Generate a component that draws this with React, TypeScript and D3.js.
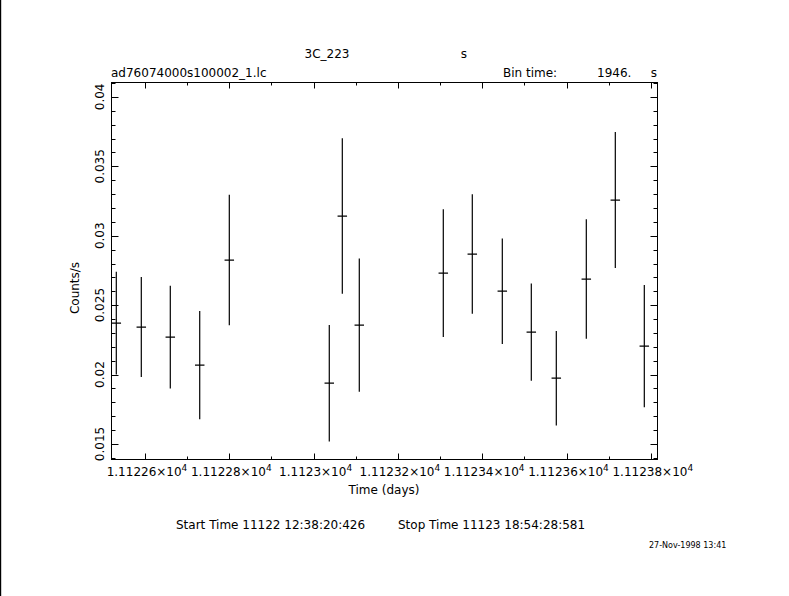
import React, { useEffect, useRef } from "react";
import * as d3 from "d3";

// light curve bins (time in days, rate in counts/s)
const times = [
  11122.5319, 11122.5912, 11122.66, 11122.7298, 11122.8, 11123.0372, 11123.0681,
  11123.1084, 11123.3077, 11123.3765, 11123.4477, 11123.5165, 11123.5758,
  11123.647, 11123.7158, 11123.7846,
];
const rates = [
  0.02371, 0.02342, 0.0227, 0.02068, 0.02825, 0.01938, 0.03142, 0.02356,
  0.02731, 0.02868, 0.02601, 0.02306, 0.01974, 0.02688, 0.03257, 0.02205,
];
const errors = [
  0.0037, 0.0036, 0.0037, 0.0039, 0.0047, 0.0042, 0.0056, 0.0048, 0.0046,
  0.0043, 0.0038, 0.0035, 0.0034, 0.0043, 0.0049, 0.0044,
];
const binHalfDays = 1946 / 86400 / 2;

const xMajor = [11122.6, 11122.8, 11123.0, 11123.2, 11123.4, 11123.6, 11123.8];
const yMajor = [0.015, 0.02, 0.025, 0.03, 0.035, 0.04];

const App: React.FC = () => {
  const svgRef = useRef<SVGSVGElement | null>(null);

  useEffect(() => {
    const width = 789;
    const height = 596;
    const left = 111.5;
    const right = 657.5;
    const top = 82.5;
    const bottom = 459.5;
    const font = "'DejaVu Sans', sans-serif";

    const x = d3.scaleLinear().domain([11122.5205, 11123.8159]).range([left, right]);
    const y = d3.scaleLinear().domain([0.013884, 0.041037]).range([bottom, top]);

    const svg = d3.select(svgRef.current);
    svg.selectAll("*").remove();
    svg
      .attr("width", width)
      .attr("height", height)
      .attr("viewBox", [0, 0, width, height])
      .style("font-family", font);

    svg.append("rect").attr("width", width).attr("height", height).attr("fill", "#fff");
    // left border of the page
    svg.append("rect").attr("x", 0).attr("y", 0).attr("width", 1.2).attr("height", height).attr("fill", "#000");

    // frame
    svg
      .append("rect")
      .attr("x", left)
      .attr("y", top)
      .attr("width", right - left)
      .attr("height", bottom - top)
      .attr("fill", "none")
      .attr("stroke", "#000")
      .attr("stroke-width", 1);

    const ticks = svg.append("g").attr("stroke", "#000").attr("stroke-width", 1);

    // x ticks, minor every 0.1 d
    const xMinor = d3.range(0, 14).map((i) => 11122.5 + i * 0.1).filter((v) => x(v) > left && x(v) < right);
    xMinor.forEach((v) => {
      const isMajor = xMajor.some((m) => Math.abs(m - v) < 1e-6);
      const len = isMajor ? 6 : 3;
      const px = Math.round(x(v)) + 0.5;
      ticks.append("line").attr("x1", px).attr("x2", px).attr("y1", bottom).attr("y2", bottom - len);
      ticks.append("line").attr("x1", px).attr("x2", px).attr("y1", top).attr("y2", top + len);
    });

    // y ticks, minor every 0.001
    const yMinor = d3.range(13, 42).map((i) => i / 1000).filter((v) => y(v) < bottom && y(v) > top);
    yMinor.forEach((v) => {
      const isMajor = yMajor.some((m) => Math.abs(m - v) < 1e-7);
      const len = isMajor ? 7 : 4;
      const py = Math.round(y(v)) + 0.5;
      ticks.append("line").attr("x1", left).attr("x2", left + len).attr("y1", py).attr("y2", py);
      ticks.append("line").attr("x1", right).attr("x2", right - len).attr("y1", py).attr("y2", py);
    });

    // x tick labels like 1.11226x10^4
    xMajor.forEach((v) => {
      const t = svg
        .append("text")
        .attr("x", x(v) + 2)
        .attr("y", 476)
        .attr("text-anchor", "middle")
        .attr("font-size", 12);
      t.append("tspan").text(`${+(v / 1e4).toFixed(5)}×10`);
      t.append("tspan").attr("dy", -5).attr("font-size", 9).text("4");
    });

    // y tick labels, rotated
    yMajor.forEach((v) => {
      svg
        .append("text")
        .attr("transform", `translate(104,${y(v)}) rotate(-90)`)
        .attr("text-anchor", "middle")
        .attr("font-size", 12)
        .text(`${+v.toFixed(3)}`);
    });

    // axis titles
    svg
      .append("text")
      .attr("x", 384)
      .attr("y", 494)
      .attr("text-anchor", "middle")
      .attr("font-size", 12)
      .text("Time (days)");
    svg
      .append("text")
      .attr("transform", `translate(79,288) rotate(-90)`)
      .attr("text-anchor", "middle")
      .attr("font-size", 12)
      .text("Counts/s");

    // header texts
    const header = [
      { t: "3C_223", x: 327, y: 58, a: "middle" },
      { t: "s", x: 464, y: 58, a: "middle" },
      { t: "ad76074000s100002_1.lc", x: 111, y: 77, a: "start" },
      { t: "Bin time:", x: 503, y: 77, a: "start" },
      { t: "1946.", x: 597, y: 77, a: "start" },
      { t: "s", x: 654, y: 77, a: "middle" },
    ];
    header.forEach((h) => {
      svg
        .append("text")
        .attr("x", h.x)
        .attr("y", h.y)
        .attr("text-anchor", h.a)
        .attr("font-size", 12)
        .text(h.t);
    });

    svg
      .append("text")
      .attr("x", 176)
      .attr("y", 529)
      .attr("font-size", 12)
      .text("Start Time 11122 12:38:20:426");
    svg
      .append("text")
      .attr("x", 398)
      .attr("y", 529)
      .attr("font-size", 12)
      .text("Stop Time 11123 18:54:28:581");
    svg
      .append("text")
      .attr("x", 649)
      .attr("y", 548)
      .attr("font-size", 8)
      .text("27-Nov-1998 13:41");

    // data: error bars + bin width
    svg
      .append("clipPath")
      .attr("id", "plotclip")
      .append("rect")
      .attr("x", left)
      .attr("y", top)
      .attr("width", right - left)
      .attr("height", bottom - top);

    const pts = svg
      .append("g")
      .attr("clip-path", "url(#plotclip)")
      .attr("stroke", "#000")
      .attr("stroke-width", 1.2)
      .selectAll("g")
      .data(times.map((t, i) => ({ t, r: rates[i], e: errors[i] })))
      .enter()
      .append("g");

    pts
      .append("line")
      .attr("x1", (d) => x(d.t))
      .attr("x2", (d) => x(d.t))
      .attr("y1", (d) => y(d.r + d.e))
      .attr("y2", (d) => y(d.r - d.e));
    pts
      .append("line")
      .attr("x1", (d) => x(d.t - binHalfDays))
      .attr("x2", (d) => x(d.t + binHalfDays))
      .attr("y1", (d) => y(d.r))
      .attr("y2", (d) => y(d.r));
  }, []);

  return (
    <div style={{ position: "absolute", left: 0, top: 0 }}>
      <svg ref={svgRef}></svg>
    </div>
  );
};

export default App;
